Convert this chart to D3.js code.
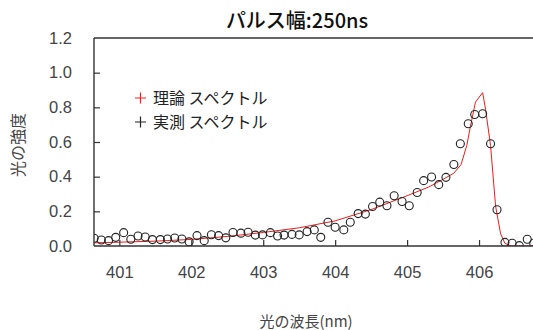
<!DOCTYPE html>
<html>
<head>
<meta charset="utf-8">
<script src="https://cdn.jsdelivr.net/npm/d3@7"></script>
<style>
  body { margin: 0; background: #fff; }
  text { font-family: "Liberation Sans", "Noto Sans CJK JP", sans-serif; }
  .jp { font-family: "Noto Sans CJK JP", sans-serif; }
</style>
</head>
<body>
<svg id="chart" width="533" height="330"></svg>
<script>
// theory curve (wavelength nm, intensity)
let theoryX = [400.62, 401.0, 401.5, 402.0, 402.5, 403.0, 403.5, 404.0, 404.5, 405.0, 405.3, 405.5, 405.65, 405.75,
  405.83, 405.88, 405.95, 406.05, 406.09, 406.16, 406.23, 406.30, 406.36, 406.45, 406.8];
let theoryY = [0.018, 0.022, 0.028, 0.038, 0.055, 0.078, 0.105, 0.145, 0.21, 0.29, 0.34, 0.385, 0.42, 0.47,
  0.58, 0.69, 0.83, 0.885, 0.79, 0.58, 0.23, 0.07, 0.015, 0.0, 0.0];

// measured points
let measX = [400.65, 400.75, 400.85, 400.95, 401.06, 401.16, 401.26, 401.36, 401.46, 401.57, 401.67, 401.77,
  401.87, 401.97, 402.08, 402.18, 402.28, 402.38, 402.48, 402.58, 402.69, 402.79, 402.89, 402.99, 403.10,
  403.20, 403.29, 403.40, 403.50, 403.61, 403.71, 403.80, 403.90, 404.00, 404.12, 404.21, 404.32, 404.42,
  404.52, 404.62, 404.72, 404.82, 404.93, 405.03, 405.14, 405.23, 405.34, 405.44, 405.54, 405.65, 405.74,
  405.85, 405.94, 406.05, 406.16, 406.25, 406.36, 406.46, 406.56, 406.67, 406.76];
let measY = [0.045, 0.035, 0.031, 0.05, 0.077, 0.039, 0.058, 0.052, 0.037, 0.037, 0.04, 0.046,
  0.04, 0.024, 0.06, 0.031, 0.065, 0.06, 0.047, 0.078, 0.074, 0.079, 0.063, 0.064, 0.077,
  0.058, 0.063, 0.067, 0.064, 0.083, 0.093, 0.05, 0.137, 0.108, 0.093, 0.137, 0.187, 0.184,
  0.228, 0.253, 0.232, 0.29, 0.257, 0.232, 0.309, 0.377, 0.398, 0.354, 0.396, 0.47, 0.59,
  0.705, 0.759, 0.763, 0.59, 0.209, 0.021, 0.016, 0.002, 0.039, 0.016];

let xTicks = [401, 402, 403, 404, 405, 406];
let yTicks = [0.0, 0.2, 0.4, 0.6, 0.8, 1.0, 1.2];
let legendLabels = ["理論 スペクトル", "実測 スペクトル"];
let legendColors = ["#ee2222", "#222222"];

let svg = d3.select("#chart");
let plotLeft = 94, plotRight = 533, plotTop = 38, plotBottom = 246;

let x = d3.scaleLinear().domain([400.648, 406.75]).range([plotLeft, plotRight]);
let y = d3.scaleLinear().domain([0, 1.2]).range([plotBottom, plotTop]);

svg.append("clipPath").attr("id", "clip")
  .append("rect")
  .attr("x", plotLeft).attr("y", plotTop)
  .attr("width", plotRight - plotLeft).attr("height", plotBottom - plotTop);

let plot = svg.append("g").attr("clip-path", "url(#clip)");

// theory line
let theory = theoryX.map((d, i) => [d, theoryY[i]]);
plot.append("path")
  .datum(theory)
  .attr("fill", "none")
  .attr("stroke", "#ee1c1c")
  .attr("stroke-width", 1)
  .attr("d", d3.line().x(d => x(d[0])).y(d => y(d[1])));

// measured circles
let meas = measX.map((d, i) => [d, measY[i]]);
plot.selectAll("circle")
  .data(meas)
  .enter()
  .append("circle")
  .attr("cx", d => x(d[0]))
  .attr("cy", d => y(d[1]))
  .attr("r", 4)
  .attr("fill", "none")
  .attr("stroke", "#222")
  .attr("stroke-width", 1.1);

// axes: ticks drawn inward
let xAxis = d3.axisBottom(x).tickValues(xTicks).tickSize(-6).tickPadding(20).tickFormat(d3.format("d"));
let yAxis = d3.axisLeft(y).tickValues(yTicks).tickSize(-6).tickPadding(22).tickFormat(d3.format(".1f"));

let gx = svg.append("g").attr("transform", `translate(0,${plotBottom})`).call(xAxis);
let gy = svg.append("g").attr("transform", `translate(${plotLeft},0)`).call(yAxis);

[gx, gy].forEach(g => {
  g.select(".domain").remove();
  g.selectAll(".tick line").attr("stroke", "#333").attr("stroke-width", 1.2);
  g.selectAll(".tick text").attr("fill", "#444").style("font-size", "16.5px");
});
gy.selectAll(".tick").filter(d => d === 0 || d === 1.2).select("line").remove();

// frame lines
svg.append("line").attr("x1", plotLeft).attr("x2", plotRight).attr("y1", plotBottom).attr("y2", plotBottom)
  .attr("stroke", "#333").attr("stroke-width", 1.4);
svg.append("line").attr("x1", plotLeft).attr("x2", plotLeft).attr("y1", plotTop).attr("y2", plotBottom)
  .attr("stroke", "#333").attr("stroke-width", 1.4);
svg.append("line").attr("x1", plotLeft).attr("x2", plotRight).attr("y1", plotTop).attr("y2", plotTop)
  .attr("stroke", "#333").attr("stroke-width", 1.4);

// title and labels
svg.append("text")
  .attr("class", "jp")
  .attr("x", 297).attr("y", 28)
  .attr("text-anchor", "middle")
  .style("font-size", "20px")
  .style("font-weight", 500)
  .attr("fill", "#111")
  .text("パルス幅:250ns");

svg.append("text")
  .attr("class", "jp")
  .attr("x", 306).attr("y", 327)
  .attr("text-anchor", "middle")
  .style("font-size", "15px")
  .attr("fill", "#444")
  .text("光の波長(nm)");

svg.append("text")
  .attr("class", "jp")
  .attr("transform", "translate(24,145) rotate(-90)")
  .attr("text-anchor", "middle")
  .style("font-size", "16px")
  .attr("fill", "#444")
  .text("光の強度");

// legend (plus markers drawn as two short strokes)
let legend = svg.append("g");
legendLabels.forEach((lab, i) => {
  let ly = 98 + i * 24;
  legend.append("path")
    .attr("d", `M${135},${ly}H${146}M${140.5},${ly - 5.5}V${ly + 5.5}`)
    .attr("stroke", legendColors[i])
    .attr("stroke-width", 1.2)
    .attr("fill", "none");
  legend.append("text")
    .attr("class", "jp")
    .attr("x", 153).attr("y", ly + 6)
    .style("font-size", "16px")
    .attr("fill", "#222")
    .text(lab);
});
</script>
</body>
</html>
